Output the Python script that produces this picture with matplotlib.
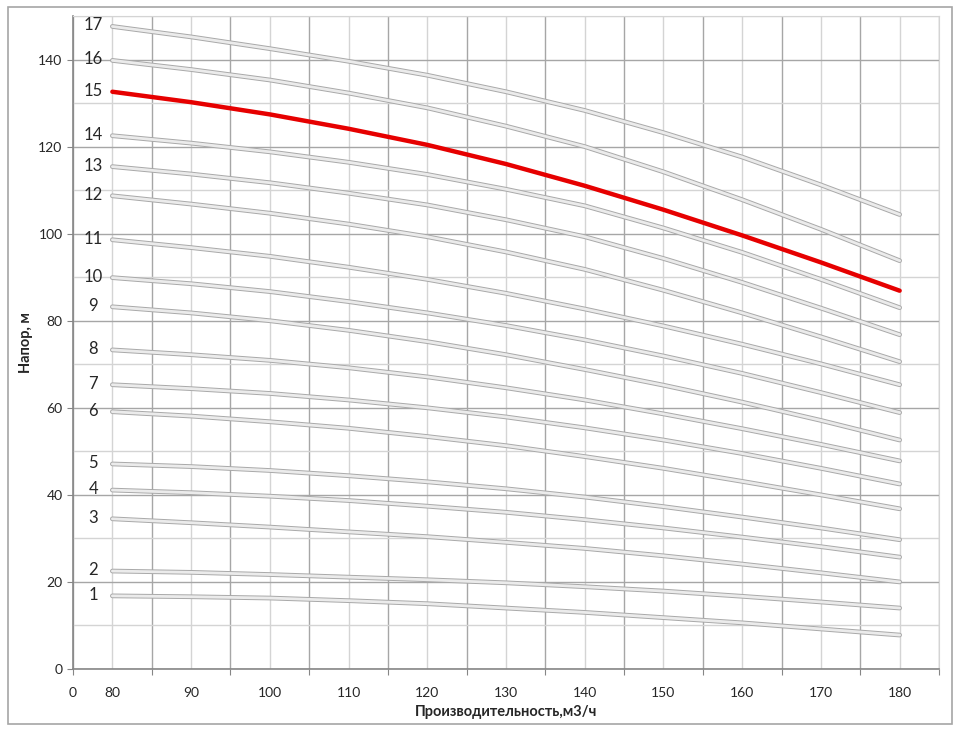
import matplotlib.pyplot as plt
import matplotlib.patheffects as pe
from matplotlib.patches import Rectangle
import numpy as np

plt.rcParams["font.family"] = ["Lato", "DejaVu Sans"]

# flow (m3/h)
flow = [80, 90, 100, 110, 120, 130, 140, 150, 160, 170, 180]

# head (m) for each stage count
curve_1 = [16.8, 16.6, 16.3, 15.7, 15.0, 14.0, 13.0, 11.8, 10.6, 9.2, 7.8]
curve_2 = [22.5, 22.2, 21.7, 21.1, 20.5, 19.8, 18.9, 17.9, 16.7, 15.4, 14.0]
curve_3 = [34.5, 33.6, 32.6, 31.5, 30.4, 29.1, 27.7, 26.0, 24.1, 22.1, 20.0]
curve_4 = [41.1, 40.5, 39.7, 38.7, 37.4, 36.0, 34.3, 32.4, 30.3, 28.1, 25.7]
curve_5 = [47.1, 46.5, 45.6, 44.4, 43.0, 41.4, 39.5, 37.3, 34.9, 32.4, 29.7]
curve_6 = [59.1, 58.1, 56.8, 55.3, 53.4, 51.3, 48.8, 46.1, 43.1, 40.0, 36.8]
curve_7 = [65.3, 64.4, 63.3, 61.8, 60.0, 57.9, 55.4, 52.6, 49.5, 46.1, 42.5]
curve_8 = [73.3, 72.2, 70.9, 69.2, 67.1, 64.6, 61.8, 58.6, 55.2, 51.6, 47.8]
curve_9 = [83.2, 81.8, 80.0, 77.8, 75.2, 72.2, 68.8, 65.2, 61.3, 57.1, 52.6]
curve_10 = [89.9, 88.5, 86.7, 84.4, 81.8, 78.9, 75.6, 71.9, 67.9, 63.5, 58.9]
curve_11 = [98.6, 96.8, 94.8, 92.3, 89.5, 86.3, 82.7, 78.8, 74.6, 70.1, 65.3]
curve_12 = [108.7, 106.8, 104.7, 102.2, 99.3, 95.8, 91.8, 87.0, 81.8, 76.3, 70.6]
curve_13 = [115.4, 113.7, 111.7, 109.3, 106.6, 103.2, 99.3, 94.3, 88.8, 82.9, 76.8]
curve_14 = [122.5, 120.8, 118.8, 116.4, 113.6, 110.2, 106.4, 101.3, 95.7, 89.5, 83.0]
curve_15 = [132.6, 130.2, 127.4, 124.1, 120.4, 116.0, 111.0, 105.5, 99.6, 93.4, 86.9]
curve_16 = [139.8, 137.7, 135.3, 132.3, 128.9, 124.7, 120.0, 114.2, 107.8, 101.0, 93.8]
curve_17 = [147.6, 145.2, 142.5, 139.6, 136.4, 132.6, 128.3, 123.2, 117.6, 111.2, 104.4]

curves = [curve_1, curve_2, curve_3, curve_4, curve_5, curve_6, curve_7, curve_8,
          curve_9, curve_10, curve_11, curve_12, curve_13, curve_14, curve_15,
          curve_16, curve_17]
curve_labels = [str(i) for i in range(1, 18)]
highlight = "15"

x_major = np.arange(75, 186, 10)
x_label_pos = np.arange(80, 181, 10)
x_labels = [str(v) for v in x_label_pos]

fig = plt.figure(figsize=(9.62, 7.35), dpi=100)
ax = fig.add_axes([73 / 962, 66 / 735, 866 / 962, 653 / 735])

# chart frame
fig.patches.append(Rectangle((8 / 962, 11 / 735), 944 / 962, 717 / 735,
                             transform=fig.transFigure, fill=False,
                             edgecolor="#a6a6a6", linewidth=1.2))

for vals, lab in zip(curves, curve_labels):
    if lab == highlight:
        ax.plot(flow, vals, color="#e60000", linewidth=3.2,
                solid_capstyle="round", solid_joinstyle="round", zorder=4)
    else:
        ax.plot(flow, vals, color="#ebebeb", linewidth=2.0,
                solid_capstyle="round", solid_joinstyle="round", zorder=3,
                path_effects=[pe.Stroke(linewidth=3.4, foreground="#a9a9a9"),
                              pe.Normal()])
    ax.annotate(lab, (flow[0], vals[0]), xytext=(-19, 1),
                textcoords="offset pixels", ha="center", va="center",
                fontsize=12, color="#262626", zorder=5)

ax.set_xlim(75, 185)
ax.set_ylim(0, 150)

ax.set_xticks(x_major)
ax.set_xticklabels(["0"] + [""] * (len(x_major) - 1))
ax.set_xticks(x_label_pos, minor=True)
ax.set_xticklabels(x_labels, minor=True)
ax.set_yticks(np.arange(0, 141, 20))
ax.set_yticks(np.arange(10, 151, 20), minor=True)

ax.tick_params(axis="both", which="major", direction="out", length=4,
               color="#868686", labelsize=10, labelcolor="#262626")
ax.tick_params(axis="x", which="major", pad=9)
ax.tick_params(axis="x", which="minor", length=0, pad=13, labelsize=10,
               labelcolor="#262626")
ax.tick_params(axis="y", which="minor", length=0)

ax.grid(which="major", color="#a6a6a6", linewidth=1.0)
ax.grid(which="minor", color="#d4d4d4", linewidth=1.0)
ax.set_axisbelow(True)

for side in ["top", "right"]:
    ax.spines[side].set_color("#d4d4d4")
for side in ["left", "bottom"]:
    ax.spines[side].set_color("#868686")
    ax.spines[side].set_linewidth(1.2)

ax.set_xlabel("Производительность,м3/ч", fontsize=10.5, fontweight="bold",
              color="#262626", labelpad=4)
ax.set_ylabel("Напор, м", fontsize=10.5, fontweight="bold",
              color="#262626", labelpad=4)

fig.savefig("out.png", dpi=100)
